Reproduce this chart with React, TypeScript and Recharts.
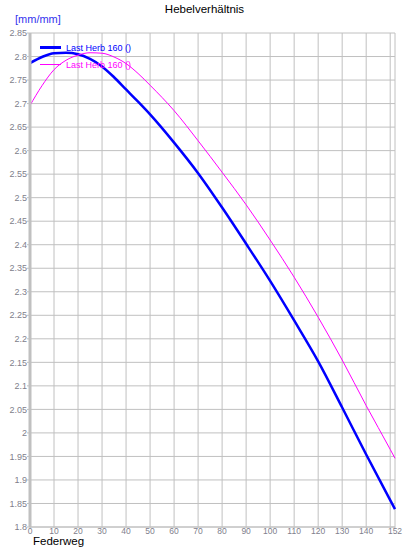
import React from "react";
import { LineChart, Line, XAxis, YAxis, CartesianGrid } from "recharts";

const federweg = [0, 5, 10, 15, 20, 25, 30, 35, 40, 45, 50, 60, 70, 80, 90, 100, 110, 120, 130, 140, 150, 152];
const herbBlue = [2.786, 2.799, 2.807, 2.808, 2.805, 2.795, 2.779, 2.756, 2.73, 2.704, 2.677, 2.617, 2.552, 2.479, 2.402, 2.323, 2.239, 2.152, 2.054, 1.954, 1.857, 1.838];
const herbMagenta = [2.696, 2.738, 2.772, 2.792, 2.803, 2.808, 2.807, 2.799, 2.785, 2.764, 2.739, 2.685, 2.621, 2.554, 2.485, 2.41, 2.331, 2.246, 2.155, 2.058, 1.965, 1.946];

const xTicks = [0, 10, 20, 30, 40, 50, 60, 70, 80, 90, 100, 110, 120, 130, 140, 150, 152];
const yTicks = [1.8, 1.85, 1.9, 1.95, 2, 2.05, 2.1, 2.15, 2.2, 2.25, 2.3, 2.35, 2.4, 2.45, 2.5, 2.55, 2.6, 2.65, 2.7, 2.75, 2.8, 2.85];
const hiddenXLabels = [150];

const seriesName = "Last Herb 160 ()";
const legendItems = [
  { color: "#0000ff", width: 3 },
  { color: "#ff00ff", width: 1 },
];

const data = federweg.map((x, i) => ({ x, blue: herbBlue[i], magenta: herbMagenta[i] }));

const FONT = "'Liberation Sans', Arial, sans-serif";
const GRID = "#c0c0c0";
const TICK = "#80808c";

const XTick = ({ x, y, payload }: any) => {
  if (hiddenXLabels.includes(payload.value)) return <g />;
  return (
    <text x={x} y={y} dy="0.71em" textAnchor="middle" fontSize={8.5} fill={TICK} fontFamily={FONT}>
      {payload.value}
    </text>
  );
};

export default function App() {
  return (
    <div style={{ position: "absolute", left: 0, top: 0, width: 409, height: 549, background: "#fff" }}>
      <LineChart width={409} height={549} data={data} margin={{ top: 33, right: 14, left: 0, bottom: 0 }}>
        <CartesianGrid stroke={GRID} strokeWidth={1} />
        <XAxis
          dataKey="x"
          type="number"
          domain={[0, 152]}
          ticks={xTicks}
          interval={0}
          height={22}
          tick={<XTick />}
          tickSize={1}
          tickMargin={0}
          tickLine={{ stroke: GRID }}
          axisLine={{ stroke: GRID }}
        />
        <YAxis
          type="number"
          domain={[1.8, 2.85]}
          ticks={yTicks}
          interval={0}
          width={30}
          tickSize={3}
          tickMargin={0}
          tickFormatter={(v: number) => String(Number(v.toFixed(2)))}
          tick={{ fontSize: 9, fill: TICK, fontFamily: FONT }}
          tickLine={{ stroke: GRID }}
          axisLine={{ stroke: GRID, strokeWidth: 3 }}
        />
        <Line type="monotone" dataKey="blue" name={seriesName} stroke="#0000ff" strokeWidth={2.5} dot={false} isAnimationActive={false} />
        <Line type="monotone" dataKey="magenta" name={seriesName} stroke="#ff00ff" strokeWidth={1} dot={false} isAnimationActive={false} />
      </LineChart>
      <div style={{ position: "absolute", left: 0, width: 409, top: 3, textAlign: "center", fontFamily: FONT, fontSize: 11.5, color: "#000" }}>
        Hebelverhältnis
      </div>
      <div style={{ position: "absolute", left: 15, top: 13, fontFamily: FONT, fontSize: 11, color: "#3333ee" }}>[mm/mm]</div>
      <div style={{ position: "absolute", left: 33, top: 535, fontFamily: FONT, fontSize: 11.5, color: "#000" }}>Federweg</div>
      <div style={{ position: "absolute", left: 40, top: 39, fontFamily: FONT, fontSize: 9 }}>
        {legendItems.map((item, i) => (
          <div key={i} style={{ display: "flex", alignItems: "center", height: 17 }}>
            <div style={{ width: 21, height: 0, borderTop: `${item.width}px solid ${item.color}`, marginRight: 5 }} />
            <span style={{ color: item.color }}>{seriesName}</span>
          </div>
        ))}
      </div>
    </div>
  );
}
